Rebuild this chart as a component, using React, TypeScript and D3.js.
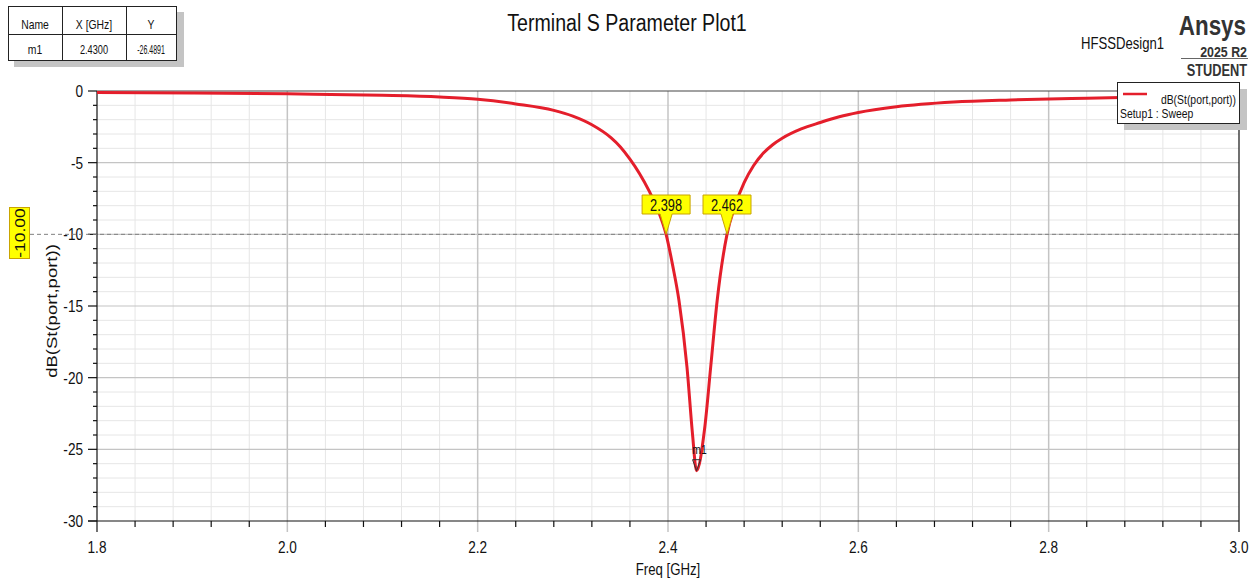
import React from "react";
import * as d3 from "d3";

const freqs = [1.80, 1.90, 2.00, 2.10, 2.16, 2.20, 2.24, 2.28, 2.30, 2.32, 2.34, 2.35, 2.36, 2.37, 2.38, 2.39, 2.398, 2.405, 2.4115, 2.42, 2.4257, 2.43, 2.4384, 2.4448, 2.4517, 2.462, 2.47, 2.48, 2.49, 2.50, 2.51, 2.52, 2.54, 2.56, 2.58, 2.60, 2.64, 2.70, 2.76, 2.84, 2.90, 3.00];
const dbValues = [-0.10, -0.14, -0.20, -0.30, -0.42, -0.58, -0.90, -1.35, -1.75, -2.35, -3.25, -3.90, -4.75, -5.75, -6.95, -8.40, -10.0, -12.2, -14.6, -19.3, -23.9, -26.49, -23.6, -19.3, -14.6, -10.0, -8.1, -6.4, -5.2, -4.35, -3.75, -3.3, -2.65, -2.2, -1.8, -1.5, -1.1, -0.77, -0.62, -0.50, -0.42, -0.35];

const xTicks = [1.8, 2.0, 2.2, 2.4, 2.6, 2.8, 3.0];
const yTicks = [0, -5, -10, -15, -20, -25, -30];
const refLevel = -10;
const crossings = [2.398, 2.462];
const crossingLabels = ["2.398", "2.462"];
const markerName = "m1";
const markerX = 2.43;
const markerY = -26.4891;
const tableHeader = ["Name", "X [GHz]", "Y"];
const tableRow = ["m1", "2.4300", "-26.4891"];
const legendLabel = "dB(St(port,port))";
const legendSub = "Setup1 : Sweep";

const FONT = "'Liberation Sans', Arial, sans-serif";
const SX = 0.8;

function T({ x, y, size, anchor = "start", weight = "normal", rot, children, fill = "#111", sx = SX }: any) {
  return (
    <text
      transform={`translate(${x},${y}) scale(${sx},1)${rot ? ` rotate(${rot})` : ""}`}
      fontSize={size}
      fontFamily={FONT}
      textAnchor={anchor}
      fontWeight={weight}
      fill={fill}
    >
      {children}
    </text>
  );
}

export default function App() {
  const W = 1255, H = 579;
  const L = 97, R = 1239, TOP = 91, B = 521;
  const x = d3.scaleLinear().domain([1.8, 3.0]).range([L, R]);
  const y = d3.scaleLinear().domain([0, -30]).range([TOP, B]);

  const minorX = d3.range(0, 31).map((i) => 1.8 + i * 0.04);
  const minorY = d3.range(0, 31).map((i) => -i);

  const line = d3
    .line<number>()
    .x((_, i) => x(freqs[i]))
    .y((d) => y(d))
    .curve(d3.curveMonotoneX);

  const isMajorX = (v: number) => Math.abs(v * 5 - Math.round(v * 5)) < 1e-6;

  const cols = [8, 62, 126, 176];
  const rowSx = [0.8, 0.71, 0.54];

  return (
    <svg width={W} height={H} style={{ position: "absolute", left: 0, top: 0, background: "#fff" }}>
      <rect x={0} y={0} width={W} height={H} fill="#fff" />
      {/* minor grid */}
      {minorX.map((v, i) =>
        isMajorX(v) ? null : (
          <line key={"mx" + i} x1={x(v)} x2={x(v)} y1={TOP} y2={B} stroke="#e6e6e6" strokeWidth={1} />
        )
      )}
      {minorY.map((v, i) =>
        v % 5 === 0 ? null : (
          <line key={"my" + i} x1={L} x2={R} y1={y(v)} y2={y(v)} stroke="#e6e6e6" strokeWidth={1} />
        )
      )}
      {/* major grid */}
      {xTicks.slice(1, -1).map((v) => (
        <line key={"Mx" + v} x1={x(v)} x2={x(v)} y1={TOP} y2={B + 11} stroke="#c4c4c4" strokeWidth={1.5} />
      ))}
      {yTicks.slice(1, -1).map((v) => (
        <line key={"My" + v} x1={L} x2={R} y1={y(v)} y2={y(v)} stroke="#c4c4c4" strokeWidth={1.2} />
      ))}
      {/* frame */}
      <line x1={L} x2={R} y1={TOP} y2={TOP} stroke="#444" strokeWidth={1.2} />
      <line x1={R} x2={R} y1={TOP} y2={B + 11} stroke="#111" strokeWidth={1.2} />
      <line x1={L} x2={L} y1={TOP} y2={B + 11} stroke="#111" strokeWidth={1.2} />
      <line x1={L - 9} x2={R} y1={B} y2={B} stroke="#111" strokeWidth={1.2} />
      {/* ticks */}
      {minorY.map((v, i) => (
        <line key={"ty" + i} x1={v % 5 === 0 ? L - 9 : L - 4} x2={L} y1={y(v)} y2={y(v)} stroke="#111" strokeWidth={1.2} />
      ))}
      {minorX.map((v, i) =>
        isMajorX(v) ? null : (
          <line key={"tx" + i} x1={x(v)} x2={x(v)} y1={B} y2={B + 6} stroke="#111" strokeWidth={1.2} />
        )
      )}
      {yTicks.map((v) => (
        <T key={"yl" + v} x={83} y={y(v) + 6} size={17} anchor="end">
          {String(v)}
        </T>
      ))}
      {xTicks.map((v) => (
        <T key={"xl" + v} x={x(v)} y={553} size={17} anchor="middle">
          {v.toFixed(1)}
        </T>
      ))}
      {/* reference line */}
      <line x1={30} x2={R} y1={y(refLevel)} y2={y(refLevel)} stroke="#808080" strokeWidth={1} strokeDasharray="4,3" />
      <rect x={9.5} y={207.5} width={20} height={51} fill="#ffff00" stroke="#c9a400" strokeWidth={1} />
      <T x={25} y={233} size={17.5} anchor="middle" rot={-90}>
        {refLevel.toFixed(2)}
      </T>
      {/* curve */}
      <path d={line(dbValues) || ""} fill="none" stroke="#e41e2b" strokeWidth={3} strokeLinejoin="round" />
      {/* crossing labels */}
      {crossings.map((c, i) => {
        const cx = x(c), cy = y(refLevel);
        const bw = 48, bt = 195, bb = 214;
        return (
          <g key={"c" + i}>
            <path
              d={`M${cx - bw / 2},${bt} H${cx + bw / 2} V${bb} H${cx + 6} L${cx},${cy} L${cx - 6},${bb} H${cx - bw / 2} Z`}
              fill="#ffff00"
              stroke="#c9a400"
              strokeWidth={1}
            />
            <T x={cx} y={211} size={16} anchor="middle">
              {crossingLabels[i]}
            </T>
          </g>
        );
      })}
      {/* m1 marker */}
      <T x={x(markerX) + 3} y={454} size={13} anchor="middle">
        {markerName}
      </T>
      <path
        d={`M${x(markerX) - 4},${y(markerY) - 11} L${x(markerX) + 4},${y(markerY) - 11} L${x(markerX)},${y(markerY)} Z`}
        fill="none"
        stroke="#333"
        strokeWidth={1}
      />
      {/* axis labels */}
      <T x={668} y={575} size={16.5} anchor="middle">
        Freq [GHz]
      </T>
      <T x={57} y={311} size={18.5} anchor="middle" rot={-90}>
        {legendLabel}
      </T>
      {/* title */}
      <T x={627} y={31} size={24.5} anchor="middle">
        Terminal S Parameter Plot1
      </T>
      {/* branding */}
      <T x={1081} y={49} size={16.4}>
        HFSSDesign1
      </T>
      <T x={1246} y={35} size={28} anchor="end" weight="bold" fill="#333">
        Ansys
      </T>
      <T x={1247} y={56.5} size={15.5} anchor="end" weight="bold" fill="#333">
        2025 R2
      </T>
      <line x1={1181} x2={1248} y1={58.5} y2={58.5} stroke="#666" strokeWidth={1} />
      <T x={1247} y={76} size={16} anchor="end" weight="bold" fill="#333">
        STUDENT
      </T>
      {/* legend */}
      <rect x={1124} y={89} width={123} height={41} fill="#c4c4c4" />
      <rect x={1117.5} y={82.5} width={122} height={41} fill="#fff" stroke="#222" strokeWidth={1} />
      <line x1={1123} x2={1147} y1={94} y2={94} stroke="#e41e2b" strokeWidth={2.5} />
      <T x={1236} y={104} size={13} anchor="end">
        {legendLabel}
      </T>
      <T x={1120} y={118} size={13}>
        {legendSub}
      </T>
      {/* marker table */}
      <rect x={14} y={12} width={170} height={55} fill="#c4c4c4" />
      <rect x={8.5} y={6.5} width={168} height={54} fill="#fff" stroke="#222" strokeWidth={1} />
      <line x1={8.5} x2={176.5} y1={34.5} y2={34.5} stroke="#222" strokeWidth={1} />
      <line x1={62.5} x2={62.5} y1={6.5} y2={60.5} stroke="#222" strokeWidth={1} />
      <line x1={126.5} x2={126.5} y1={6.5} y2={60.5} stroke="#222" strokeWidth={1} />
      {tableHeader.map((h, i) => (
        <T key={"th" + i} x={(cols[i] + cols[i + 1]) / 2} y={29} size={13} anchor="middle">
          {h}
        </T>
      ))}
      {tableRow.map((h, i) => (
        <T key={"td" + i} x={(cols[i] + cols[i + 1]) / 2} y={54} size={13} anchor="middle" sx={rowSx[i]}>
          {h}
        </T>
      ))}
    </svg>
  );
}
